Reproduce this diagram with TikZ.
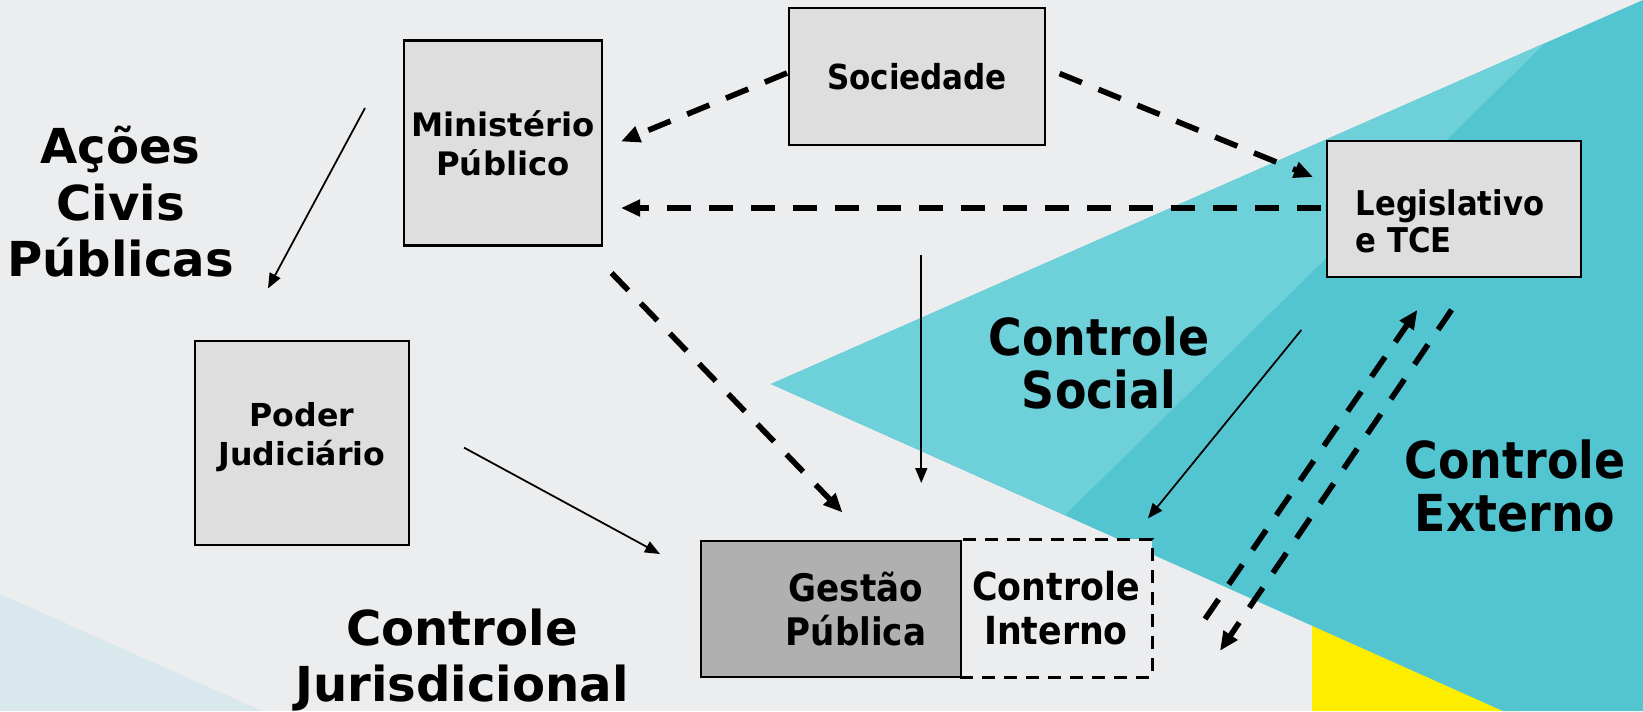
\documentclass[tikz,border=0pt]{standalone}
\usepackage{fontspec}
\setmainfont{DejaVu Sans}
\newfontfamily\condfont{DejaVu Sans Condensed}
\usepackage{xcolor}
\usepackage{tikz}
\usetikzlibrary{calc,arrows.meta}
\definecolor{bggray}{RGB}{236,237,239}
\definecolor{boxgray}{RGB}{222,222,222}
\definecolor{gestgray}{RGB}{176,176,176}
\definecolor{tealdark}{RGB}{82,197,208}
\definecolor{teallight}{RGB}{110,208,217}
\definecolor{ylw}{RGB}{255,237,0}
\definecolor{paleblue}{RGB}{217,232,236}
\tikzset{
	orgbox/.style={draw, line width=0.6pt, fill=boxgray, inner sep=0pt, align=center},
	dasharrow/.style={line width=1.6pt, dash pattern=on 2.4mm off 1.8mm, -{Triangle[length=1.9mm,width=1.6mm]}},
	thinarrow/.style={line width=0.5pt, -{Triangle[length=1.5mm,width=1.2mm]}},
	biglabel/.style={align=center, font=\bfseries\fontsize{13.7}{16.1}\selectfont},
	condlabel/.style={align=center, font=\condfont\bfseries\fontsize{14.5}{15.3}\selectfont}
}

\begin{document}
\begin{tikzpicture}[x=0.1mm,y=-0.1mm]
	% fundo
	\useasboundingbox (0,0) rectangle (1643,711);
	\fill[bggray] (0,0) rectangle (1643,711);
	\fill[paleblue] (0,594) -- (262,711) -- (0,711) -- cycle;
	\fill[ylw] (1312,600) -- (1312,711) -- (1520,711) -- cycle;
	\fill[tealdark] (771,384) -- (1643,0) -- (1643,711) -- (1503,711) -- cycle;
	\fill[teallight] (771,384) -- (1545,43) -- (1065,515) -- cycle;
	
	% caixas
	\node[orgbox, minimum width=19.8mm, minimum height=20.5mm, font=\bfseries\fontsize{9.2}{11.2}\selectfont] (mp) at (503,143) {Ministério\\Público};
	\node[orgbox, minimum width=21.4mm, minimum height=20.4mm] (pj) at (302,443) {};
	\node[align=center, inner sep=0pt, font=\bfseries\fontsize{9}{11}\selectfont] (pjtxt) at (302,437) {Poder\\Judiciário};
	\node[orgbox, minimum width=25.6mm, minimum height=13.7mm, font=\condfont\bfseries\fontsize{9.8}{12}\selectfont] (soc) at (917,76.5) {Sociedade};
	\node[orgbox, minimum width=25.4mm, minimum height=13.6mm] (leg) at (1454,209) {};
	\node[anchor=west, align=left, inner sep=0pt, font=\condfont\bfseries\fontsize{9.7}{10.6}\selectfont] (legtxt) at (1355,221) {Legislativo\\e TCE};
	\node[draw, line width=0.85pt, dash pattern=on 1.3mm off 0.9mm, fill=bggray, minimum width=19.2mm, minimum height=13.8mm, inner sep=0pt, align=center, font=\condfont\bfseries\fontsize{11}{12.3}\selectfont] (ci) at (1056,608) {Controle\\Interno};
	\node[draw, line width=0.6pt, fill=gestgray, minimum width=26mm, minimum height=13.6mm, inner sep=0pt] (gest) at (831,609) {};
	\node[align=center, inner sep=0pt, font=\condfont\bfseries\fontsize{10.8}{12.5}\selectfont] (gesttxt) at (856,609) {Gestão\\Pública};
	
	% rotulos
	\node[biglabel] (acoes) at (120.5,202) {Ações\\Civis\\Públicas};
	\node[biglabel] (jur) at (462,660) {Controle\\Jurisdicional};
	\node[condlabel] (social) at (1099,363) {Controle\\Social};
	\node[condlabel] (externo) at (1515,486) {Controle\\Externo};
	
	% pontas das setas
	\coordinate (socA) at (787,73);
	\coordinate (mpA) at (621,141.5);
	\coordinate (socB) at (1059.6,73.5);
	\coordinate (legA) at (1313,177);
	\coordinate (legB) at (1321,208);
	\coordinate (mpB) at (621,208);
	\coordinate (mpC) at (611.6,273);
	\coordinate (gestA) at (842.5,512.5);
	\coordinate (mpD) at (365,108);
	\coordinate (pjA) at (268,288.4);
	\coordinate (pjB) at (464,447.6);
	\coordinate (gestB) at (660,554);
	\coordinate (socC) at (921.3,255);
	\coordinate (gestC) at (921.3,483);
	\coordinate (legC) at (1301.3,330);
	\coordinate (ciA) at (1148,518.4);
	\coordinate (ciB) at (1205,619);
	\coordinate (legD) at (1417.4,309.8);
	\coordinate (legE) at (1451.6,309.8);
	\coordinate (ciC) at (1220,650.8);
	
	% setas tracejadas
	\draw[dasharrow] (socA) -- (mpA);
	\draw[dasharrow] (socB) -- (legA);
	\draw[dasharrow] (legB) -- (mpB);
	\draw[dasharrow] (mpC) -- (gestA);
	\draw[dasharrow] (ciB) -- (legD);
	\draw[dasharrow] (legE) -- (ciC);
	
	% setas finas
	\draw[thinarrow] (mpD) -- (pjA);
	\draw[thinarrow] (pjB) -- (gestB);
	\draw[thinarrow] (socC) -- (gestC);
	\draw[thinarrow] (legC) -- (ciA);
\end{tikzpicture}
\end{document}
